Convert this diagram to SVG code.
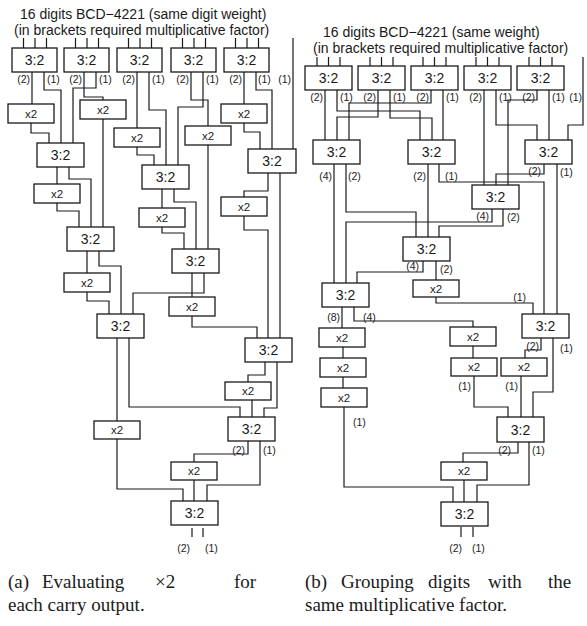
<svg xmlns="http://www.w3.org/2000/svg" width="587" height="626" viewBox="0 0 587 626">
<style>
.ln{fill:none;stroke:#1a1a1a;stroke-width:1.2}
.bx{fill:#fff;stroke:#1a1a1a;stroke-width:1.3}
text{font-family:"Liberation Sans",Arial,sans-serif;fill:#1a1a1a}
.t3{font-size:14px;text-anchor:middle}
.tx{font-size:11.5px;text-anchor:middle}
.lb{font-size:10.5px}
.le{font-size:10.5px;text-anchor:end}
.ti{font-size:14px}
.cap{font-family:"Liberation Serif","Times New Roman",serif;font-size:19px}
</style>
<rect width="587" height="626" fill="#fff"/>
<text class="ti" x="20" y="18.5">16 digits BCD−4221 (same digit weight)</text>
<text class="ti" x="14" y="34.5">(in brackets required multiplicative factor)</text>
<text class="ti" x="323" y="36.5">16 digits BCD−4221 (same weight)</text>
<text class="ti" x="313" y="52.5">(in brackets required multiplicative factor)</text>
<g id="connectors" class="ln">
<path d="M23.5,38V48M35,38V48M46.5,38V48M75.5,38V48M87,38V48M98.5,38V48M128.5,38V48M140,38V48M151.5,38V48M182.5,38V48M194,38V48M205.5,38V48M235.5,38V48M247,38V48M258.5,38V48"/>
<path d="M32,72V104M44,72V90H61V143M84,72V97H103V100M96,72V88H73V143M137,72V128M149,72V110H166V165M191,72V100H208V126M203,72V107H178V165M244,72V104M256,72V90H272V149M293,38V149"/>
<path d="M31,123V133H49V143M244,123V132H260V149M57,167V184M69,167V179H91V227M57,203V211H79V227M103,119V227M87,251V273M99,251V266H121V314M87,292V301H109V314"/>
<path d="M137,147V155H154V165M162,189V208M174,189V202H196V249M162,227V233H184V249M208,145V249M192,273V297M204,273V293H133V314M192,316V327H257V338"/>
<path d="M268,173V191H244V197M280,173V338M244,216V230H268V338M265,362V375H248V382M277,362V408H264V417M117,338V421M129,338V407H240V417M252,400V417M248,441V454H194V462M260,441V485H207V501M194,480V501M117,439V489H183V501M192,528V537M203,528V537"/>
<path d="M317,57V66M328.5,57V66M340,57V66M370,57V66M381.5,57V66M393,57V66M423,57V66M434.5,57V66M446,57V66M476,57V66M487.5,57V66M499,57V66M529,57V66M540.5,57V66M552,57V66"/>
<path d="M325,90V140M337,90V111H420V140M378,90V117H337V140M390,90V118H432V140M431,90V103H349V140M443,90V140M484,90V185M496,90V125H537V140M537,90V100H508V185M549,90V140M583,57V125H568V140"/>
<path d="M334,164V283M346,164V212H416V237M428,164V237M439,164V182H544V314M544,164V174H496V185M557,164V314M492,209V222H346V283M503,209V226H439V237M423,261V272H357V283M436,261V280M436,297V303H533V314"/>
<path d="M342,307V328M354,307V321H473V327M343,347V358M343,377V388M344,407V487H453V502M473,346V358M474,376V407H508V417M541,338V350H525V358M553,338V392H533V417M521,376V417M518,442V453H463V462M529,442V485H477V502M464,480V502M461,527V537M473,527V537"/>
</g>
<g id="A1"><rect class="bx" x="12" y="48" width="45" height="24"/><text class="t3" x="34.5" y="65">3:2</text></g>
<g id="A2"><rect class="bx" x="64" y="48" width="45" height="24"/><text class="t3" x="86.5" y="65">3:2</text></g>
<g id="A3"><rect class="bx" x="117" y="48" width="45" height="24"/><text class="t3" x="139.5" y="65">3:2</text></g>
<g id="A4"><rect class="bx" x="171" y="48" width="45" height="24"/><text class="t3" x="193.5" y="65">3:2</text></g>
<g id="A5"><rect class="bx" x="224" y="48" width="45" height="24"/><text class="t3" x="246.5" y="65">3:2</text></g>
<g id="Xa1"><rect class="bx" x="8" y="104" width="46" height="19"/><text class="tx" x="31" y="117.5">x2</text></g>
<g id="Xa2"><rect class="bx" x="80" y="100" width="46" height="19"/><text class="tx" x="103" y="113.5">x2</text></g>
<g id="Xa3"><rect class="bx" x="114" y="128" width="46" height="19"/><text class="tx" x="137" y="141.5">x2</text></g>
<g id="Xa4"><rect class="bx" x="185" y="126" width="46" height="19"/><text class="tx" x="208" y="139.5">x2</text></g>
<g id="Xa5"><rect class="bx" x="221" y="104" width="46" height="19"/><text class="tx" x="244" y="117.5">x2</text></g>
<g id="B1"><rect class="bx" x="37" y="143" width="47" height="24"/><text class="t3" x="60.5" y="160">3:2</text></g>
<g id="Xb1"><rect class="bx" x="34" y="184" width="46" height="19"/><text class="tx" x="57" y="197.5">x2</text></g>
<g id="B2"><rect class="bx" x="67" y="227" width="47" height="24"/><text class="t3" x="90.5" y="244">3:2</text></g>
<g id="Xc1"><rect class="bx" x="64" y="273" width="46" height="19"/><text class="tx" x="87" y="286.5">x2</text></g>
<g id="B3"><rect class="bx" x="97" y="314" width="47" height="24"/><text class="t3" x="120.5" y="331">3:2</text></g>
<g id="M1"><rect class="bx" x="142" y="165" width="47" height="24"/><text class="t3" x="165.5" y="182">3:2</text></g>
<g id="XM"><rect class="bx" x="139" y="208" width="46" height="19"/><text class="tx" x="162" y="221.5">x2</text></g>
<g id="M2"><rect class="bx" x="172" y="249" width="47" height="24"/><text class="t3" x="195.5" y="266">3:2</text></g>
<g id="Xd"><rect class="bx" x="169" y="297" width="46" height="19"/><text class="tx" x="192" y="310.5">x2</text></g>
<g id="C"><rect class="bx" x="248" y="149" width="48" height="24"/><text class="t3" x="272" y="166">3:2</text></g>
<g id="XC"><rect class="bx" x="221" y="197" width="46" height="19"/><text class="tx" x="244" y="210.5">x2</text></g>
<g id="R"><rect class="bx" x="245" y="338" width="47" height="24"/><text class="t3" x="268.5" y="355">3:2</text></g>
<g id="Xe"><rect class="bx" x="225" y="382" width="46" height="18"/><text class="tx" x="248" y="395">x2</text></g>
<g id="F"><rect class="bx" x="228" y="417" width="47" height="24"/><text class="t3" x="251.5" y="434">3:2</text></g>
<g id="Xf"><rect class="bx" x="171" y="462" width="46" height="18"/><text class="tx" x="194" y="475">x2</text></g>
<g id="Xg"><rect class="bx" x="94" y="421" width="46" height="18"/><text class="tx" x="117" y="434">x2</text></g>
<g id="G"><rect class="bx" x="171" y="501" width="47" height="24"/><text class="t3" x="194.5" y="518">3:2</text></g>
<g id="labels-a">
<text class="le" x="30" y="83">(2)</text><text class="lb" x="47" y="83">(1)</text>
<text class="le" x="82" y="83">(2)</text><text class="lb" x="99" y="83">(1)</text>
<text class="le" x="135" y="83">(2)</text><text class="lb" x="152" y="83">(1)</text>
<text class="le" x="189" y="83">(2)</text><text class="lb" x="206" y="83">(1)</text>
<text class="le" x="242" y="83">(2)</text><text class="lb" x="258" y="83">(1)</text>
<text class="le" x="291" y="83">(1)</text>
<text class="le" x="245" y="454">(2)</text><text class="lb" x="263" y="454">(1)</text>
<text class="le" x="190" y="552">(2)</text><text class="lb" x="205" y="552">(1)</text>
</g>
<g id="b1"><rect class="bx" x="305" y="66" width="47" height="24"/><text class="t3" x="328.5" y="83">3:2</text></g>
<g id="b2"><rect class="bx" x="358" y="66" width="47" height="24"/><text class="t3" x="381.5" y="83">3:2</text></g>
<g id="b3"><rect class="bx" x="411" y="66" width="47" height="24"/><text class="t3" x="434.5" y="83">3:2</text></g>
<g id="b4"><rect class="bx" x="464" y="66" width="47" height="24"/><text class="t3" x="487.5" y="83">3:2</text></g>
<g id="b5"><rect class="bx" x="517" y="66" width="47" height="24"/><text class="t3" x="540.5" y="83">3:2</text></g>
<g id="P1"><rect class="bx" x="313" y="140" width="47" height="24"/><text class="t3" x="336.5" y="157">3:2</text></g>
<g id="P2"><rect class="bx" x="408" y="140" width="47" height="24"/><text class="t3" x="431.5" y="157">3:2</text></g>
<g id="P3"><rect class="bx" x="525" y="140" width="47" height="24"/><text class="t3" x="548.5" y="157">3:2</text></g>
<g id="Q1"><rect class="bx" x="472" y="185" width="47" height="24"/><text class="t3" x="495.5" y="202">3:2</text></g>
<g id="Q2"><rect class="bx" x="403" y="237" width="47" height="24"/><text class="t3" x="426.5" y="254">3:2</text></g>
<g id="S"><rect class="bx" x="322" y="283" width="47" height="24"/><text class="t3" x="345.5" y="300">3:2</text></g>
<g id="X1"><rect class="bx" x="413" y="280" width="46" height="17"/><text class="tx" x="436" y="292.5">x2</text></g>
<g id="X2a"><rect class="bx" x="319" y="328" width="46" height="19"/><text class="tx" x="342" y="341.5">x2</text></g>
<g id="X2b"><rect class="bx" x="320" y="358" width="46" height="19"/><text class="tx" x="343" y="371.5">x2</text></g>
<g id="X2c"><rect class="bx" x="321" y="388" width="46" height="19"/><text class="tx" x="344" y="401.5">x2</text></g>
<g id="X3a"><rect class="bx" x="450" y="327" width="46" height="19"/><text class="tx" x="473" y="340.5">x2</text></g>
<g id="X3b"><rect class="bx" x="451" y="358" width="46" height="18"/><text class="tx" x="474" y="371">x2</text></g>
<g id="T"><rect class="bx" x="522" y="314" width="47" height="24"/><text class="t3" x="545.5" y="331">3:2</text></g>
<g id="X4"><rect class="bx" x="501" y="358" width="46" height="18"/><text class="tx" x="524" y="371">x2</text></g>
<g id="U"><rect class="bx" x="497" y="417" width="47" height="25"/><text class="t3" x="520.5" y="434.5">3:2</text></g>
<g id="X5"><rect class="bx" x="441" y="462" width="46" height="18"/><text class="tx" x="464" y="475">x2</text></g>
<g id="V"><rect class="bx" x="441" y="502" width="47" height="24"/><text class="t3" x="464.5" y="519">3:2</text></g>
<g id="labels-b">
<text class="le" x="323" y="101">(2)</text><text class="lb" x="340" y="101">(1)</text>
<text class="le" x="376" y="101">(2)</text><text class="lb" x="393" y="101">(1)</text>
<text class="le" x="429" y="101">(2)</text><text class="lb" x="446" y="101">(1)</text>
<text class="le" x="482" y="101">(2)</text><text class="lb" x="499" y="101">(1)</text>
<text class="le" x="535" y="101">(2)</text><text class="lb" x="552" y="101">(1)</text>
<text class="le" x="582" y="101">(1)</text>
<text class="le" x="332" y="180">(4)</text><text class="lb" x="348" y="180">(2)</text>
<text class="le" x="426" y="180">(2)</text><text class="lb" x="445" y="180">(1)</text>
<text class="le" x="541" y="175">(2)</text><text class="lb" x="560" y="176">(1)</text>
<text class="le" x="489" y="220">(4)</text><text class="lb" x="507" y="221">(2)</text>
<text class="le" x="419" y="270">(4)</text><text class="lb" x="440" y="273">(2)</text>
<text class="le" x="526" y="301">(1)</text>
<text class="le" x="340" y="321">(8)</text><text class="lb" x="363" y="321">(4)</text>
<text class="le" x="539" y="350">(2)</text><text class="lb" x="560" y="352">(1)</text>
<text class="le" x="471" y="390">(1)</text><text class="le" x="518" y="390">(1)</text>
<text class="lb" x="353" y="426">(1)</text>
<text class="le" x="511" y="454">(2)</text><text class="lb" x="532" y="454">(1)</text>
<text class="le" x="462" y="552">(2)</text><text class="lb" x="472" y="552">(1)</text>
</g>
<g id="captions">
<text class="cap" y="588"><tspan x="8">(a)</tspan><tspan x="42">Evaluating</tspan><tspan x="155">×2</tspan><tspan x="234">for</tspan></text>
<text class="cap" x="8" y="611">each carry output.</text>
<text class="cap" y="588"><tspan x="305">(b)</tspan><tspan x="341">Grouping</tspan><tspan x="428">digits</tspan><tspan x="488">with</tspan><tspan x="548">the</tspan></text>
<text class="cap" x="305" y="611">same multiplicative factor.</text>
</g>
</svg>
